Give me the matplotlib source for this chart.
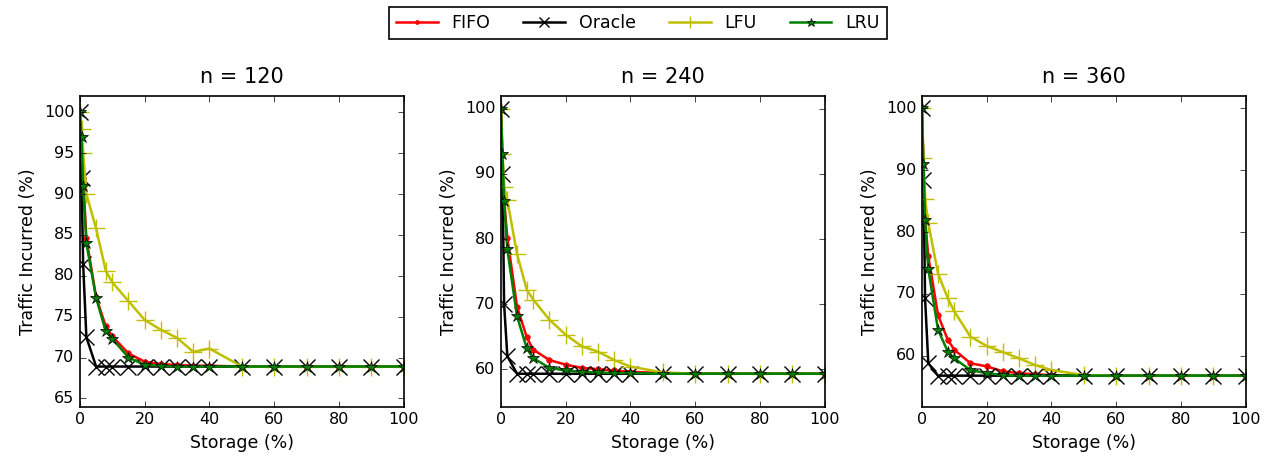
import matplotlib

matplotlib.use("Agg")
import matplotlib.pyplot as plt

plt.style.use("classic")

# storage (%) sampled for every policy
storage = [0, 0.5, 1, 2, 5, 8, 10, 15, 20, 25, 30, 35, 40, 50, 60, 70, 80, 90, 100]
titles = ["n = 120", "n = 240", "n = 360"]

# traffic incurred (%) per panel
fifo = [
    [100, 97, 92, 84.6, 77.4, 73.8, 72.6, 70.5, 69.5, 69.2, 69.1, 69.0, 69.0, 68.9, 68.9, 68.9, 68.9, 68.9, 68.9],
    [100, 93, 86, 80.2, 69.6, 64.9, 63.0, 61.4, 60.7, 60.2, 60.0, 59.8, 59.6, 59.4, 59.3, 59.3, 59.3, 59.3, 59.3],
    [100, 91, 82, 76.1, 66.6, 62.6, 61.0, 58.8, 58.3, 57.5, 57.2, 57.0, 56.9, 56.8, 56.8, 56.8, 56.8, 56.8, 56.8],
]
oracle = [
    [100, 92, 81.5, 72.5, 68.9, 68.9, 68.9, 68.9, 68.9, 68.9, 68.9, 68.9, 68.9, 68.9, 68.9, 68.9, 68.9, 68.9, 68.9],
    [100, 90, 70, 62, 59.3, 59.3, 59.3, 59.3, 59.3, 59.3, 59.3, 59.3, 59.3, 59.3, 59.3, 59.3, 59.3, 59.3, 59.3],
    [100, 88.4, 69.3, 58.8, 56.8, 56.8, 56.8, 56.8, 56.8, 56.8, 56.8, 56.8, 56.8, 56.8, 56.8, 56.8, 56.8, 56.8, 56.8],
]
lfu = [
    [100, 98, 95, 90, 85.8, 80.6, 79.2, 76.9, 74.6, 73.4, 72.4, 70.7, 71.1, 68.9, 68.9, 68.9, 68.9, 68.9, 68.9],
    [100, 93, 88, 86, 77.7, 72.2, 70.7, 67.6, 65.3, 63.5, 62.7, 61.4, 60.4, 59.5, 59.3, 59.3, 59.3, 59.3, 59.3],
    [100, 92, 85.4, 81.4, 73.3, 69.3, 67.2, 63.1, 61.6, 60.6, 59.6, 58.5, 57.7, 56.9, 56.8, 56.8, 56.8, 56.8, 56.8],
]
lru = [
    [100, 97, 91, 84.0, 77.3, 73.2, 72.3, 70.0, 69.1, 69.0, 68.9, 68.9, 68.9, 68.9, 68.9, 68.9, 68.9, 68.9, 68.9],
    [100, 93, 85.8, 78.4, 68.1, 63.2, 61.7, 60.2, 59.8, 59.6, 59.5, 59.4, 59.4, 59.3, 59.3, 59.3, 59.3, 59.3, 59.3],
    [100, 91, 82.0, 74.0, 64.2, 60.7, 59.6, 57.7, 57.2, 56.9, 56.8, 56.8, 56.8, 56.8, 56.8, 56.8, 56.8, 56.8, 56.8],
]
ylims = [(64, 102), (54.25, 102), (51.8, 102)]
yticks = [
    [65, 70, 75, 80, 85, 90, 95, 100],
    [60, 70, 80, 90, 100],
    [60, 70, 80, 90, 100],
]

fig = plt.figure(figsize=(12.68, 4.61), dpi=100, facecolor="white")
lefts = [0.063, 0.395, 0.727]

for i in range(3):
    ax = fig.add_axes([lefts[i], 0.118, 0.2555, 0.674])
    ax.plot(storage, fifo[i], color="r", lw=1.8, marker="o", ms=4, mec="r", label="FIFO")
    ax.plot(storage, oracle[i], color="k", lw=1.8, marker="x", ms=11, mew=1.0, label="Oracle")
    ax.plot(storage, lfu[i], color="y", lw=1.8, marker="+", ms=13, mew=1.0, label="LFU")
    ax.plot(storage, lru[i], color="g", lw=1.8, marker="*", ms=9, mec="k", label="LRU")
    ax.set_xlim(0, 100)
    ax.set_ylim(*ylims[i])
    ax.set_yticks(yticks[i])
    ax.set_xticks([0, 20, 40, 60, 80, 100])
    ax.tick_params(labelsize=11.5)
    ax.set_title(titles[i], fontsize=15, y=1.02)
    ax.set_xlabel("Storage (%)", fontsize=12.5)
    ax.set_ylabel("Traffic Incurred (%)", fontsize=12.5)
    for sp in ax.spines.values():
        sp.set_linewidth(1.2)
    if i == 0:
        handles, labels = ax.get_legend_handles_labels()

leg = fig.legend(handles, labels, loc="center", bbox_to_anchor=(0.503, 0.95), ncol=4,
                 numpoints=1, fontsize=12.5, frameon=True, fancybox=False,
                 columnspacing=1.9, handlelength=2.4, markerscale=0.7)
leg.get_frame().set_linewidth(1.2)

fig.savefig("out.png", dpi=100, facecolor="white")
